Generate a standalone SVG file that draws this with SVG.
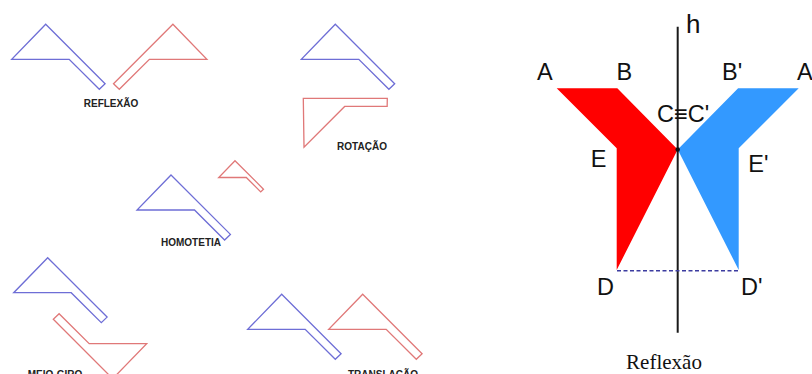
<svg xmlns="http://www.w3.org/2000/svg" xmlns:xlink="http://www.w3.org/1999/xlink" width="812" height="374" viewBox="0 0 812 374">
  <style>
    .ob { fill: none; stroke: #6e6ed6; stroke-width: 1.3; stroke-linejoin: miter; }
    .or { fill: none; stroke: #e07878; stroke-width: 1.3; stroke-linejoin: miter; }
    .cap { font-family: "Liberation Sans", Arial, sans-serif; font-weight: bold; font-size: 10px; fill: #222; text-anchor: middle; }
    .pt { font-family: "Liberation Sans", Arial, sans-serif; font-size: 23.5px; fill: #111; }
    .title { font-family: "Liberation Serif", "Times New Roman", serif; font-size: 21px; fill: #111; text-anchor: middle; }
  </style>
  <defs>
    <!-- flag-like figure, apex at origin -->
    <path id="fig" d="M0,0 L59.4,59.4 L53.6,65 L23.5,35 L-34,35 Z"/>
  </defs>
  <rect width="812" height="374" fill="#fff"/>

  <!-- Reflection -->
  <g id="reflexao">
    <use xlink:href="#fig" class="ob" transform="translate(45.7,24.3)"/>
    <use xlink:href="#fig" class="or" transform="translate(172.9,24.3) scale(-1,1)"/>
    <text class="cap" x="111" y="106.7">REFLEXÃO</text>
  </g>

  <!-- Rotation -->
  <g id="rotacao">
    <use xlink:href="#fig" class="ob" transform="translate(335.3,24.3)"/>
    <use xlink:href="#fig" class="or" transform="translate(303.3,98.3) rotate(-45)"/>
    <text class="cap" x="362" y="149.5">ROTAÇÃO</text>
  </g>

  <!-- Homothety (red copy at ratio 0.48) -->
  <g id="homotetia">
    <use xlink:href="#fig" class="ob" transform="translate(171,175)"/>
    <path class="or" d="M235,160.7 L263.5,189.2 L260.7,191.9 L246.3,177.5 L218.7,177.5 Z"/>
    <text class="cap" x="191" y="246">HOMOTETIA</text>
  </g>

  <!-- Half turn -->
  <g id="meio-giro">
    <use xlink:href="#fig" class="ob" transform="translate(47.7,257.7)"/>
    <use xlink:href="#fig" class="or" transform="translate(112.7,378.7) rotate(180)"/>
    <text class="cap" x="55" y="378">MEIO-GIRO</text>
  </g>

  <!-- Translation -->
  <g id="translacao">
    <use xlink:href="#fig" class="ob" transform="translate(281.7,294.3)"/>
    <use xlink:href="#fig" class="or" transform="translate(362.7,294.3)"/>
    <text class="cap" x="383" y="378">TRANSLAÇÃO</text>
  </g>

  <!-- Reflection about axis h -->
  <g id="figura-abcde">
    <polygon points="556.7,88.3 617.3,88.3 677.7,149.5 616.7,270 616.7,148.3" fill="#ff0000"/>
  </g>
  <g id="figura-imagem">
    <polygon points="798.7,88.3 738.1,88.3 677.7,149.5 738.7,270 738.7,148.3" fill="#3399ff"/>
  </g>
  <g id="connectors">
    <line x1="677.7" y1="26.7" x2="677.7" y2="332.7" stroke="#1a1a1a" stroke-width="2"/>
    <line x1="617" y1="270.8" x2="738.5" y2="270.8" stroke="#3c3ca0" stroke-width="1.5" stroke-dasharray="4,2.5"/>
    <circle cx="677.7" cy="149.5" r="2.2" fill="#111"/>
  </g>
  <g id="rotulos">
    <text class="pt" x="686" y="33.3" style="font-size:26px">h</text>
    <text class="pt" x="537" y="80">A</text>
    <text class="pt" x="616.5" y="80">B</text>
    <text class="pt" x="722" y="79.5">B'</text>
    <text class="pt" x="797" y="80">A'</text>
    <text class="pt" x="657" y="121.7">C≡C'</text>
    <text class="pt" x="590.8" y="166.7">E</text>
    <text class="pt" x="748.3" y="171.7">E'</text>
    <text class="pt" x="597" y="295">D</text>
    <text class="pt" x="741" y="295">D'</text>
    <text class="title" x="664" y="369.3">Reflexão</text>
  </g>
</svg>
